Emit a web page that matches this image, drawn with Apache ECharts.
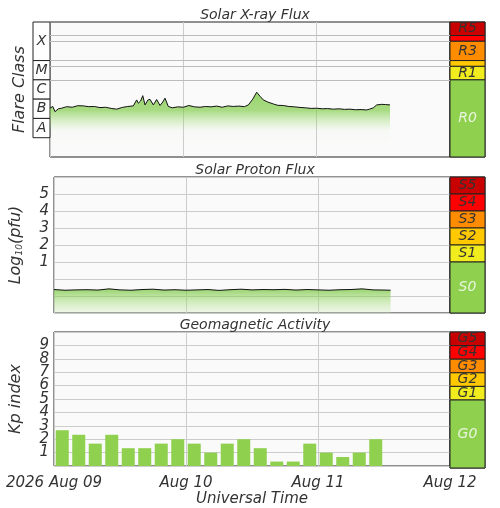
<!DOCTYPE html><html><head><meta charset="utf-8">
<script src="https://cdn.jsdelivr.net/npm/echarts@6/dist/echarts.min.js"></script>
<style>body{margin:0;background:#fff}#c{width:500px;height:508px}</style></head><body><div id="c"></div><script>
// hours since 2026 Aug 09 00 UT, log10 X-ray flux (W/m2)
const xrayTime=[0,0.5,0.9,1.5,2.1,3,4,5,6,7,8,9,10,11,12,13,14,15,15.6,15.9,16.3,16.7,17.1,17.6,18,18.6,19.2,19.8,20.3,20.7,21.3,22,23,24,25,26,27,28,29,30,31,32,33,34,35,35.7,36.5,37.2,37.8,38.4,39.2,40.2,41,42,43,44,45,46,47,48,49,50,51,52,53,54,55,56,57,57.5,58.2,58.8,59.7,60.4,61.2];
const xrayLog=[-6.47,-6.38,-6.65,-6.5,-6.47,-6.39,-6.42,-6.34,-6.35,-6.39,-6.38,-6.44,-6.42,-6.48,-6.52,-6.43,-6.38,-6.35,-6.04,-6.21,-6.1,-5.82,-6.3,-6.05,-6.01,-6.3,-6.02,-6.33,-6.15,-5.95,-6.38,-6.45,-6.4,-6.42,-6.33,-6.4,-6.42,-6.38,-6.4,-6.36,-6.42,-6.35,-6.38,-6.36,-6.39,-6.3,-6.0,-5.64,-5.85,-6.04,-6.15,-6.25,-6.32,-6.33,-6.38,-6.4,-6.43,-6.45,-6.48,-6.47,-6.5,-6.49,-6.52,-6.5,-6.53,-6.52,-6.55,-6.54,-6.56,-6.52,-6.45,-6.3,-6.27,-6.28,-6.3];
const protonTime=[0,2,4,6,8,10,12,14,16,18,20,22,24,26,28,30,32,34,36,38,40,42,44,46,48,50,52,54,56,58,60,61.2];
const protonLog=[-0.62,-0.66,-0.64,-0.63,-0.65,-0.58,-0.64,-0.66,-0.62,-0.6,-0.65,-0.63,-0.66,-0.64,-0.62,-0.67,-0.63,-0.6,-0.64,-0.62,-0.63,-0.61,-0.65,-0.62,-0.64,-0.66,-0.63,-0.62,-0.58,-0.64,-0.65,-0.66];
const kpTime=[1.5,4.5,7.5,10.5,13.5,16.5,19.5,22.5,25.5,28.5,31.5,34.5,37.5,40.5,43.5,46.5,49.5,52.5,55.5,58.5];
const kpValues=[2.67,2.33,1.67,2.33,1.33,1.33,1.67,2,1.67,1,1.67,2,1.33,0.33,0.33,1.67,1,0.67,1,2];
const dayTicks=[0,24,48,72];
const dayLabels=['2026 Aug 09','Aug 10','Aug 11','Aug 12'];
const rScale=[['R5',-2.7,-2,'#c80000'],['',-3,-2.7,'#ff0000'],['R3',-4,-3,'#ff8c00'],['',-4.3,-4,'#ffc800'],['R1',-5,-4.3,'#f0ec1e'],['R0',-9,-5,'#8fd14f']];
const flareClass=[['X',-4,-2],['M',-5,-4],['C',-6,-5],['B',-7,-6],['A',-8,-7]];
const sScale=[['S5',5,6,'#c80000'],['S4',4,5,'#ff0000'],['S3',3,4,'#ff8c00'],['S2',2,3,'#ffc800'],['S1',1,2,'#f0ec1e'],['S0',-2,1,'#8fd14f']];
const gScale=[['G5',9,10,'#c80000'],['G4',8,9,'#ff0000'],['G3',7,8,'#ff8c00'],['G2',6,7,'#ffc800'],['G1',5,6,'#f0ec1e'],['G0',0,5,'#8fd14f']];

const F='DejaVu Sans';
const panels=[{top:22,h:135,min:-9,max:-2},{top:177,h:136,min:-2,max:6},{top:332,h:136,min:0,max:10}];
const grid=[],xAxis=[],yAxis=[],series=[];
const txt={fontFamily:F,fontStyle:'italic',color:'#333'};
function addGrid(g,left,width,p,xo,yo){grid.push(Object.assign({left,width,top:p.top,height:p.h,show:true,borderColor:'#222',borderWidth:1,backgroundColor:'#fafafa'},g));
 xAxis.push(Object.assign({type:'value',gridIndex:grid.length-1,min:0,max:72,axisLine:{show:false},axisTick:{show:false},axisLabel:{show:false},splitLine:{show:false}},xo||{}));
 yAxis.push(Object.assign({type:'value',gridIndex:grid.length-1,min:p.min,max:p.max,axisLine:{show:false},axisTick:{show:false},axisLabel:{show:false},splitLine:{show:false}},yo||{}));
 return grid.length-1;}
function bands(idx,arr,light){series.push({type:'line',xAxisIndex:idx,yAxisIndex:idx,data:[],silent:true,markArea:{silent:true,data:arr.map(b=>[{yAxis:b[1],name:b[0],itemStyle:{color:b[3]||'#fafafa',borderColor:'#222',borderWidth:1},label:{position:'inside',fontFamily:F,fontStyle:'italic',fontSize:14,color:b[0]===light?'#e8f5dc':'#333'}},{yAxis:b[2]}])}});}
const vgrid={show:true,lineStyle:{color:'#ccc'}};
const green={type:'linear',x:0,y:0,x2:0,y2:1,colorStops:[{offset:0,color:'rgba(110,195,50,1)'},{offset:0.28,color:'rgba(120,200,60,0.9)'},{offset:0.6,color:'rgba(170,225,130,0.05)'},{offset:1,color:'rgba(255,255,255,0)'}]};
// panel 1
let g=addGrid({},50,400,panels[0],{interval:24,splitLine:vgrid},{name:'Flare Class',nameLocation:'middle',nameGap:22,nameTextStyle:Object.assign({fontSize:16},txt)});
series.push({type:'line',xAxisIndex:g,yAxisIndex:g,data:xrayTime.map((t,i)=>[t,xrayLog[i]]),symbol:'none',lineStyle:{color:'#111',width:1},areaStyle:{color:green,origin:'start'},
 markLine:{silent:true,symbol:'none',label:{show:false},lineStyle:{color:'#bbb',type:'solid',width:1.2},data:rScale.slice(0,5).map(b=>({yAxis:b[1]}))}});
let gf=addGrid({show:false},33,17,panels[0]);
series.push({type:'line',xAxisIndex:gf,yAxisIndex:gf,data:[],markArea:{silent:true,data:flareClass.map(b=>[{yAxis:b[1],name:b[0],itemStyle:{color:'#fff',borderColor:'#222',borderWidth:1},label:{position:'inside',fontFamily:F,fontStyle:'italic',fontSize:14,color:'#333'}},{yAxis:b[2]}])}});
let gr=addGrid({},450,35,panels[0]);bands(gr,rScale,'R0');
// panel 2
g=addGrid({},50,400,panels[1],{interval:24,splitLine:vgrid},{interval:1,name:'Log{s|10}(pfu)',nameLocation:'middle',nameGap:30,nameTextStyle:Object.assign({fontSize:16,rich:{s:{fontSize:9,fontFamily:F,fontStyle:'italic',color:'#333',verticalAlign:'bottom'}}},txt),
 axisLabel:{show:true,fontFamily:F,fontStyle:'italic',fontSize:15,color:'#333',margin:5,formatter:v=>(v>=1&&v<=5)?v:''},splitLine:{show:true,lineStyle:{color:'#ccc',width:1.2}}});
series.push({type:'line',xAxisIndex:g,yAxisIndex:g,data:protonTime.map((t,i)=>[t,protonLog[i]]),symbol:'none',lineStyle:{color:'#111',width:1},areaStyle:{color:{type:'linear',x:0,y:0,x2:0,y2:1,colorStops:[{offset:0,color:'rgba(110,195,50,1)'},{offset:1,color:'rgba(200,235,170,0.35)'}]},origin:'start'}});
gr=addGrid({},450,35,panels[1]);bands(gr,sScale,'S0');
// panel 3
g=addGrid({},50,400,panels[2],{interval:24,splitLine:vgrid,axisLabel:{show:true,fontFamily:F,fontStyle:'italic',fontSize:15,color:'#333',margin:10,formatter:v=>dayLabels[dayTicks.indexOf(v)]||'',alignMinLabel:'center',alignMaxLabel:'center'},name:'Universal Time',nameLocation:'middle',nameGap:26,nameTextStyle:Object.assign({fontSize:15},txt)},
 {interval:1,name:'Kp index',nameLocation:'middle',nameGap:30,nameTextStyle:Object.assign({fontSize:16},txt),axisLabel:{show:true,fontFamily:F,fontStyle:'italic',fontSize:15,color:'#333',margin:5,formatter:v=>(v>=1&&v<=9)?v:''},splitLine:{show:true,lineStyle:{color:'#ccc',width:1.2}}});
series.push({type:'bar',xAxisIndex:g,yAxisIndex:g,data:kpTime.map((t,i)=>[t,kpValues[i]]),barWidth:13,itemStyle:{color:'#8fd14f'}});
gr=addGrid({},450,35,panels[2]);bands(gr,gScale,'G0');

const titles=[['Solar X-ray Flux',3],['Solar Proton Flux',158],['Geomagnetic Activity',313]].map(t=>({text:t[0],left:250,textAlign:'center',top:t[1],textStyle:Object.assign({fontSize:14,fontWeight:'normal'},txt)}));
const chart=echarts.init(document.getElementById('c'));
chart.setOption({animation:false,backgroundColor:'#fff',title:titles,grid,xAxis,yAxis,series});
</script></body></html>
